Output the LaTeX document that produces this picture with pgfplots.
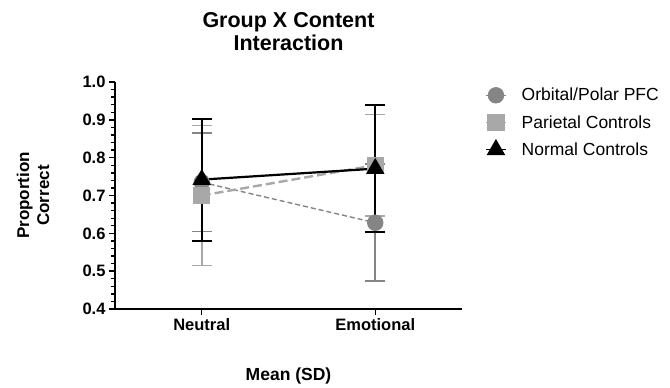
\documentclass[border=0pt]{standalone}
\usepackage{fontspec}
\setmainfont{Liberation Sans}
\usepackage{pgfplots}
\pgfplotsset{compat=1.18}
\definecolor{orb}{HTML}{858585}
\definecolor{par}{HTML}{A8A8A8}
\begin{document}
\begin{tikzpicture}
\begin{axis}[
  name=ax,
  scale only axis, width=347pt, height=227pt,
  xmin=-0.5, xmax=1.5, ymin=0.4, ymax=1.0,
  axis x line*=bottom, axis y line*=left,
  axis line style={line width=1.7pt},
  xtick={0,1}, xticklabels={Neutral,Emotional},
  ytick={0.4,0.5,0.6,0.7,0.8,0.9,1.0},
  minor y tick num=4,
  tick align=outside,
  major tick length=6pt, minor tick length=4pt,
  every tick/.style={line width=1.4pt, black},
  yticklabel style={/pgf/number format/.cd, fixed, fixed zerofill, precision=1},
  /pgf/number format/assume math mode=true,
  ticklabel style={font=\fontsize{16.5}{18}\selectfont\bfseries},
  title={Group X Content\\Interaction},
  title style={align=center, font=\fontsize{21.5}{23}\selectfont\bfseries, at={(rel axis cs:0.5,1)}, anchor=south, inner sep=0pt, yshift=25pt},
  ylabel={Proportion\\Correct},
  ylabel style={align=center, font=\fontsize{17}{20}\selectfont\bfseries, at={(rel axis cs:0,0.5)}, anchor=center, yshift=82pt},
  xlabel={Mean (SD)},
  xlabel style={font=\fontsize{17.5}{20}\selectfont\bfseries, at={(rel axis cs:0.5,0)}, anchor=center, yshift=-67pt},
  legend style={at={(rel axis cs:1,1)}, anchor=north west, xshift=20pt, yshift=-2pt, draw=none, fill=none,
    font=\fontsize{17.5}{20}\selectfont, row sep=9pt, cells={anchor=west},
    /tikz/every odd column/.style={column sep=13pt}},
  legend image code/.code={\draw[#1, solid, line width=1.5pt] (0pt,0pt) -- (20pt,0pt); \draw[#1, only marks] plot coordinates {(10pt,0pt)};},
  clip=false,
]
% Orbital/Polar PFC
\addplot[color=orb, line width=1.4pt, dash pattern=on 5pt off 3pt, mark=*, mark size=7.5pt, mark options={solid, fill=orb, draw=orb},
  error bars/.cd, y dir=both, y explicit,
  error bar style={line width=1.8pt, orb, solid},
  error mark options={rotate=90, line width=1.8pt, mark size=10pt, orb, solid}]
  coordinates {(0,0.735) +- (0,0.13) (1,0.628) +- (0,0.155)};
\addlegendentry{Orbital/Polar PFC}
% Parietal Controls
\addplot[color=par, line width=2.4pt, dash pattern=on 9pt off 4pt, mark=square*, mark size=7.5pt, mark options={solid, fill=par, draw=par},
  error bars/.cd, y dir=both, y explicit,
  error bar style={line width=1.8pt, par, solid},
  error mark options={rotate=90, line width=1.8pt, mark size=10pt, par, solid}]
  coordinates {(0,0.70) +- (0,0.185) (1,0.78) +- (0,0.134)};
\addlegendentry{Parietal Controls}
% Normal Controls
\addplot[color=black, line width=2.2pt, solid, mark=triangle*, mark size=8.5pt, mark options={solid, fill=black, draw=black},
  error bars/.cd, y dir=both, y explicit,
  error bar style={line width=2pt, black, solid},
  error mark options={rotate=90, line width=2pt, mark size=10pt, black, solid}]
  coordinates {(0,0.742) +- (0,0.161) (1,0.771) +- (0,0.168)};
\addlegendentry{Normal Controls}
\end{axis}
\pgfresetboundingbox
\path ([shift={(-115pt,-79pt)}]ax.south west) rectangle ([shift={(555pt,309pt)}]ax.south west);
\end{tikzpicture}
\end{document}
